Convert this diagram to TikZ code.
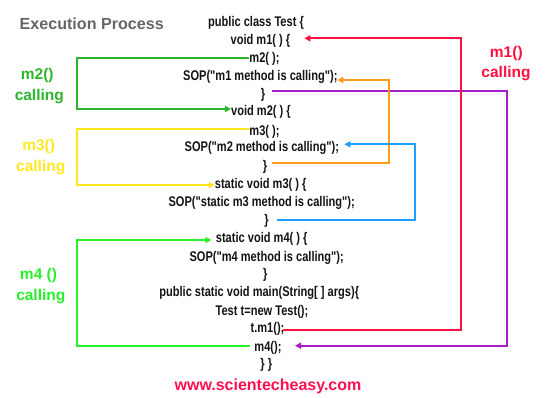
\documentclass[tikz,border=0pt]{standalone}
\usepackage{fontspec}
\setmainfont{Liberation Sans}
\newfontfamily\codefont{Liberation Sans}[FakeStretch=0.79]
\usetikzlibrary{arrows.meta}
\definecolor{cgreen}{RGB}{45,182,45}
\definecolor{cyellow}{RGB}{255,232,30}
\definecolor{cbright}{RGB}{40,240,40}
\definecolor{cred}{RGB}{255,16,64}
\definecolor{cpurple}{RGB}{165,30,200}
\definecolor{corange}{RGB}{255,154,26}
\definecolor{cblue}{RGB}{30,158,255}
\definecolor{cgray}{RGB}{102,102,102}
\definecolor{cweb}{RGB}{255,16,80}
\tikzset{
  code/.style={inner sep=0pt, text height=10pt, text depth=0pt, font=\codefont\bfseries\fontsize{14}{14}\selectfont, text=black!92},
  lbl/.style={inner sep=0pt, font=\bfseries\fontsize{15.5}{16}\selectfont},
  conn/.style={line width=1.8pt},
  tip/.style={-{Triangle[length=6pt,width=6pt]}}
}
\begin{document}
\begin{tikzpicture}[x=1pt,y=-1pt]
\useasboundingbox (0,0) rectangle (560,397);
\fill[white] (0,0) rectangle (560,397);
% title and labels
\node[lbl, text=cgray, font=\bfseries\fontsize{16.1}{17}\selectfont] (title) at (91.7,23.3) {Execution Process};
\node[lbl, text=cgreen] (l2a) at (37.3,75) {m2()};
\node[lbl, text=cgreen] (l2b) at (39.3,96.7) {calling};
\node[lbl, text=cyellow] (l3a) at (38.7,146.7) {m3()};
\node[lbl, text=cyellow] (l3b) at (40.7,167.7) {calling};
\node[lbl, text=cbright] (l4a) at (38.5,275) {m4 ()};
\node[lbl, text=cbright] (l4b) at (40.8,296.7) {calling};
\node[lbl, text=cred] (l1a) at (506.3,53.3) {m1()};
\node[lbl, text=cred] (l1b) at (506,73.3) {calling};
\node[lbl, text=cweb, font=\bfseries\fontsize{16}{17}\selectfont] (web) at (268,386.7) {www.scientecheasy.com};
% code
\node[code] (cls) at (256,21.7) {public class Test \{};
\node[code] (vm1) at (260.5,39.3) {void m1( ) \{};
\node[code] (m2call) at (264.5,57.3) {m2( );};
\node[code] (sop1) at (260.3,75) {SOP("m1 method is calling");};
\node[code] (br1) at (263,93) {\}};
\node[code] (vm2) at (261,110) {void m2( ) \{};
\node[code] (m3call) at (264.5,130) {m3( );};
\node[code] (sop2) at (261.8,146.7) {SOP("m2 method is calling");};
\node[code] (br2) at (265,165.7) {\}};
\node[code] (sm3) at (260.7,183.3) {static void m3( ) \{};
\node[code] (sop3) at (261.7,201.7) {SOP("static m3 method is calling");};
\node[code] (br3) at (266.5,219.3) {\}};
\node[code] (sm4) at (261.7,237.3) {static void m4( ) \{};
\node[code] (sop4) at (266.7,256.7) {SOP("m4 method is calling");};
\node[code] (br4) at (265.3,273.3) {\}};
\node[code] (mainl) at (259.2,291.7) {public static void main(String[ ] args)\{};
\node[code] (tnew) at (262,310) {Test t=new Test();};
\node[code] (tm1) at (267.5,327.7) {t.m1();};
\node[code] (m4call) at (268,346.7) {m4();};
\node[code] (cend) at (266.3,363.3) {\} \}};
% corner coordinates
\coordinate (g2x) at (77.3,80);
\coordinate (g3x) at (77.3,150);
\coordinate (g4x) at (77.3,300);
\coordinate (rx) at (461,200);
\coordinate (px) at (507,200);
\coordinate (ox) at (389,120);
\coordinate (bx) at (415,180);
\coordinate (p0) at (272.3,91);
\coordinate (p1) at (295,345.7);
\coordinate (r0) at (283.3,330);
\coordinate (r1) at (304.3,38.3);
\coordinate (o0) at (272.3,163.3);
\coordinate (o1) at (337.3,80);
\coordinate (b0) at (277.3,220);
\coordinate (b1) at (344.3,144.3);
\coordinate (g4s) at (250,346);
% left connectors
\draw[conn, cgreen, tip] ([yshift=-1pt]m2call.west) -| (g2x) |- ([yshift=1pt]vm2.west);
\draw[conn, cyellow, tip] ([yshift=0.7pt]m3call.west) -| (g3x) |- ([yshift=-1.7pt]sm3.west);
\draw[conn, cbright, tip, shorten >=4.4pt] (g4s) -| (g4x) |- ([yshift=-2.7pt]sm4.west);
% right connectors
\draw[conn, cpurple, tip] (p0) -| (px) |- (p1);
\draw[conn, cred, tip] (r0) -| (rx) |- (r1);
\draw[conn, corange, tip] (o0) -| (ox) |- (o1);
\draw[conn, cblue, tip] (b0) -| (bx) |- (b1);
\end{tikzpicture}
\end{document}
